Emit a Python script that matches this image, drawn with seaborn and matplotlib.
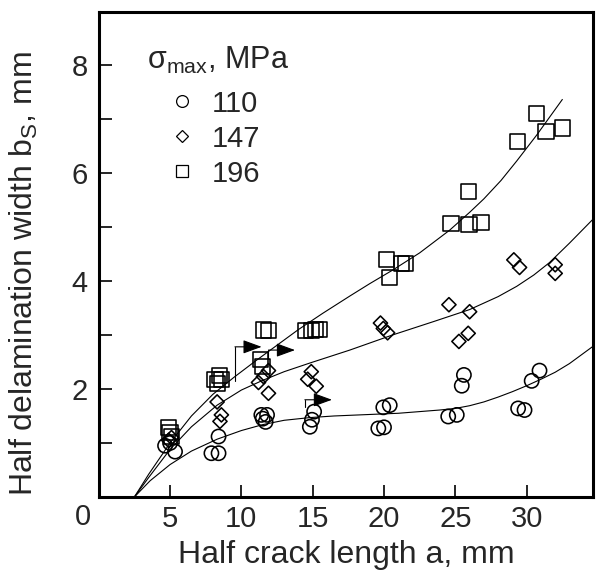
import numpy as np
import pandas as pd
import matplotlib
matplotlib.use("Agg")
import matplotlib.pyplot as plt
import seaborn as sns
from matplotlib.lines import Line2D

# ---------------- data ----------------
a_110 = [4.65, 5.0, 5.35, 7.9, 8.4, 8.4, 11.4, 11.8, 11.7, 11.5, 15.1, 14.95, 14.8,
         19.95, 20.4, 19.6, 20.0, 24.5, 25.1, 25.6, 25.45, 29.4, 29.85, 30.35, 30.9]
b_110 = [0.95, 1.0, 0.84, 0.81, 0.81, 1.12, 1.52, 1.52, 1.39, 1.45, 1.58, 1.43, 1.30,
         1.66, 1.70, 1.27, 1.29, 1.49, 1.52, 2.26, 2.06, 1.64, 1.61, 2.15, 2.34]

a_147 = [4.9, 5.1, 8.3, 8.6, 8.5, 11.2, 11.55, 11.9, 11.9, 14.9, 14.65, 15.25,
         19.75, 19.95, 20.25, 24.55, 26.0, 25.25, 25.9, 29.1, 29.5, 32.0, 32.0]
b_147 = [1.05, 1.10, 1.76, 1.52, 1.40, 2.12, 2.23, 2.34, 1.92, 2.32, 2.18, 2.05,
         3.22, 3.12, 3.04, 3.56, 3.43, 2.88, 3.03, 4.39, 4.25, 4.30, 4.14]

a_196 = [4.9, 5.0, 5.1, 8.15, 8.45, 8.35, 8.6, 11.55, 11.9, 11.35, 11.5, 14.5, 14.9,
         15.2, 15.5, 20.15, 20.4, 21.2, 21.5, 24.7, 25.95, 26.8, 25.9, 29.35, 30.7,
         31.35, 32.5]
b_196 = [1.28, 1.20, 1.12, 2.17, 2.25, 2.10, 2.17, 3.09, 3.08, 2.55, 2.42, 3.08, 3.08,
         3.10, 3.10, 4.39, 4.06, 4.33, 4.33, 5.07, 5.04, 5.08, 5.65, 6.58, 7.10,
         6.77, 6.83]

# fitted trend curves
curve_110_a = [2.5, 3.6, 5.0, 6.5, 8.3, 10.0, 11.5, 13.0, 14.8, 16.5, 18.3, 21.0,
               23.9, 25.0, 26.0, 27.0, 28.0, 29.0, 30.0, 31.0, 32.0, 33.0, 34.6]
curve_110_b = [0.0, 0.30, 0.60, 0.85, 1.07, 1.23, 1.34, 1.42, 1.47, 1.50, 1.52, 1.55,
               1.61, 1.64, 1.69, 1.76, 1.85, 1.95, 2.06, 2.18, 2.31, 2.47, 2.78]
curve_147_a = [2.5, 3.5, 5.0, 6.5, 8.3, 10.0, 11.5, 13.0, 14.8, 17.6, 20.6, 23.5,
               26.0, 28.0, 29.3, 30.5, 31.6, 33.0, 34.6]
curve_147_b = [0.0, 0.36, 0.88, 1.30, 1.70, 1.98, 2.16, 2.32, 2.48, 2.72, 3.00, 3.25,
               3.47, 3.71, 3.90, 4.11, 4.34, 4.70, 5.13]
curve_196_a = [2.5, 3.5, 5.0, 6.5, 8.0, 9.5, 11.0, 12.5, 14.0, 15.7, 17.6, 19.0,
               20.6, 22.5, 24.6, 26.0, 27.0, 28.2, 29.3, 30.7, 31.6, 32.5]
curve_196_b = [0.0, 0.42, 1.00, 1.50, 1.90, 2.22, 2.52, 2.81, 3.10, 3.40, 3.72, 3.95,
               4.20, 4.52, 4.94, 5.27, 5.52, 5.86, 6.22, 6.70, 7.03, 7.36]

# arrows: vertical stem at x, from y0 up to y1, then horizontal to tip
arrow_x = [9.55, 11.9, 14.45]
arrow_y0 = [2.14, 2.57, 1.67]
arrow_y1 = [2.78, 2.72, 1.80]
arrow_tip = [11.42, 13.76, 16.35]

stress_labels = ["110", "147", "196"]
x_ticks = [5, 10, 15, 20, 25, 30]
y_ticks = [0, 1, 2, 3, 4, 5, 6, 7, 8]
y_ticklabels = ["", "", "2", "", "4", "", "6", "", "8"]

# ---------------- style ----------------
sns.set_style("ticks")
plt.rcParams["font.family"] = ["Liberation Sans", "DejaVu Sans"]
plt.rcParams["mathtext.fontset"] = "custom"
plt.rcParams["mathtext.rm"] = "Liberation Sans"
plt.rcParams["mathtext.it"] = "Liberation Sans:italic"
plt.rcParams["mathtext.bf"] = "Liberation Sans:bold"

fig = plt.figure(figsize=(5.99, 5.81), dpi=100)
ax = fig.add_axes([0.1648, 0.1446, 0.8252, 0.8348])

df = pd.DataFrame({
    "a": a_110 + a_147 + a_196,
    "b": b_110 + b_147 + b_196,
    "s": ["110"] * len(a_110) + ["147"] * len(a_147) + ["196"] * len(a_196),
})
markers = {"110": "o", "147": "D", "196": "s"}
sizes = {"110": 105, "147": 52, "196": 120}
for lab in stress_labels:
    sub = df[df["s"] == lab]
    sns.scatterplot(data=sub, x="a", y="b", marker=markers[lab], s=sizes[lab],
                    facecolors="none", edgecolors="black", linewidth=1.15,
                    ax=ax, legend=False, zorder=3)

for ca, cb in [(curve_110_a, curve_110_b), (curve_147_a, curve_147_b),
               (curve_196_a, curve_196_b)]:
    sns.lineplot(x=ca, y=cb, sort=False, color="black", linewidth=0.8,
                 ax=ax, estimator=None, zorder=2)

for x, y0, y1, tip in zip(arrow_x, arrow_y0, arrow_y1, arrow_tip):
    ax.plot([x, x], [y0, y1], color="black", lw=0.8, zorder=4)
    ax.annotate("", xy=(tip, y1), xytext=(x, y1),
                arrowprops=dict(arrowstyle="-|>,head_length=1.15,head_width=0.42",
                                color="black", lw=0.8, shrinkA=0, shrinkB=0),
                zorder=4)

ax.set_xlim(0, 34.65)
ax.set_ylim(0, 8.98)
ax.set_xticks(x_ticks)
ax.set_xticklabels([str(t) for t in x_ticks])
ax.set_yticks(y_ticks)
ax.set_yticklabels(y_ticklabels)
ax.tick_params(axis="both", direction="in", length=9, width=1.2, labelsize=21,
               top=False, right=False, color="black")
ax.tick_params(axis="x", pad=6)
ax.tick_params(axis="y", pad=8)
for sp in ax.spines.values():
    sp.set_linewidth(2.2)
    sp.set_color("black")
    sp.set_visible(True)

ax.text(-0.032, -0.042, "0", transform=ax.transAxes, ha="center", va="center",
        fontsize=21)

ax.set_xlabel("Half crack length a, mm", fontsize=23, labelpad=5)
ax.set_ylabel(r"Half delamination width b$_\mathregular{S}$, mm", fontsize=23)
ax.yaxis.set_label_coords(-0.118, 0.46)

ax.text(0.098, 0.901, r"σ$_\mathregular{max}$, MPa", transform=ax.transAxes,
        ha="left", va="center", fontsize=22)
handles = [Line2D([], [], ls="none", marker="o", ms=8.5, mfc="none", mec="black", mew=0.9),
           Line2D([], [], ls="none", marker="D", ms=6, mfc="none", mec="black", mew=0.9),
           Line2D([], [], ls="none", marker="s", ms=8, mfc="none", mec="black", mew=0.9)]
ax.legend(handles, stress_labels, loc="upper left", bbox_to_anchor=(0.14, 0.84),
          frameon=False, fontsize=21, handlelength=1.0, handletextpad=0.5,
          labelspacing=0.24, borderpad=0, borderaxespad=0)

fig.savefig("out.png", dpi=100)
